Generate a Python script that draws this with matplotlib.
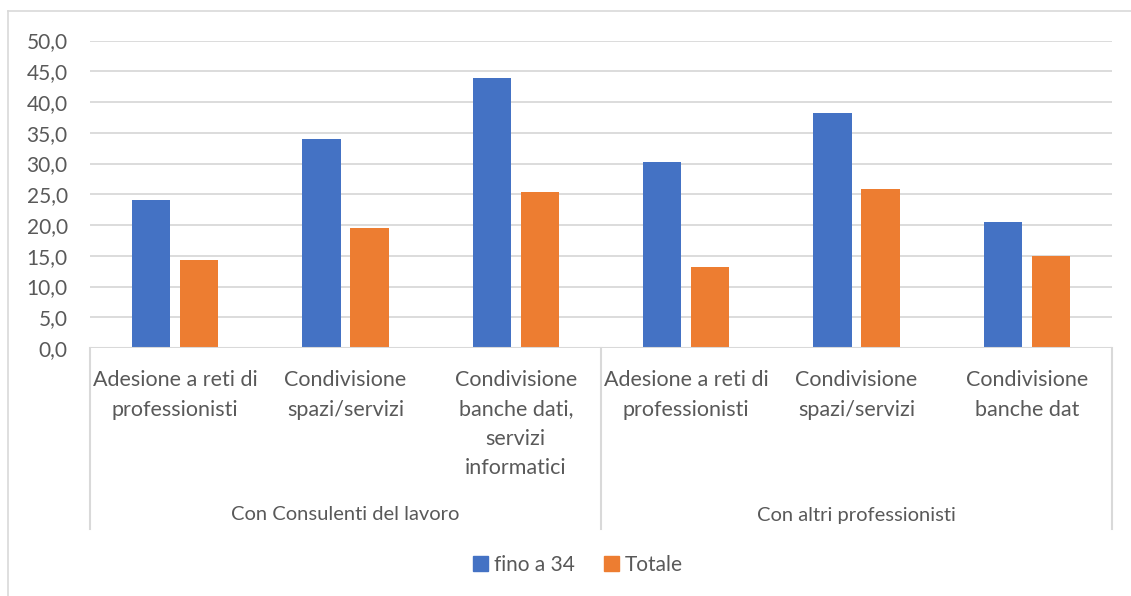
import matplotlib
matplotlib.use("Agg")
import matplotlib.pyplot as plt
from matplotlib.lines import Line2D
from matplotlib.patches import Patch
import numpy as np

plt.rcParams['font.family'] = ['Lato', 'DejaVu Sans']

categories = [
    "Adesione a reti di\nprofessionisti",
    "Condivisione\nspazi/servizi",
    "Condivisione\nbanche dati,\nservizi\ninformatici",
    "Adesione a reti di\nprofessionisti",
    "Condivisione\nspazi/servizi",
    "Condivisione\nbanche dat",
]
groups = ["Con Consulenti del lavoro", "Con altri professionisti"]
group_sizes = [3, 3]
series_names = ["fino a 34", "Totale"]
fino_a_34 = [24.1, 34.0, 43.9, 30.3, 38.2, 20.5]
totale = [14.3, 19.5, 25.4, 13.2, 25.8, 14.9]
yticks = [0, 5, 10, 15, 20, 25, 30, 35, 40, 45, 50]

BLUE = "#4472C4"
ORANGE = "#ED7D31"
GRID = "#D9D9D9"
TXT = "#595959"
FS = 14.5

W, H = 1131, 596
fig = plt.figure(figsize=(W / 100, H / 100), dpi=100)

def fx(px):
    return px / W

def fy(py):
    return 1 - py / H

ax_l, ax_r, ax_t, ax_b = 90, 1112, 40.5, 348
ax = fig.add_axes([fx(ax_l), fy(ax_b), fx(ax_r) - fx(ax_l), fy(ax_t) - fy(ax_b)])

n = len(categories)
x = np.arange(n)
bw = 0.225
off = 0.14
ax.bar(x - off, fino_a_34, bw, color=BLUE, zorder=3, label=series_names[0])
ax.bar(x + off, totale, bw, color=ORANGE, zorder=3, label=series_names[1])

ax.set_xlim(-0.5, n - 0.5)
ax.set_ylim(0, 50)
ax.set_yticks(yticks)
ax.set_yticklabels([f"{v:.1f}".replace(".", ",") for v in yticks], color=TXT, fontsize=15)
ax.tick_params(axis='y', length=0, pad=16)
ax.set_xticks([])
for s in ax.spines.values():
    s.set_visible(False)
ax.yaxis.grid(True, color=GRID, linewidth=1.3, zorder=0)
ax.axhline(0, color=GRID, linewidth=1.5, zorder=4)

# category labels
for i, lab in enumerate(categories):
    ax.annotate(lab, xy=(i, 0), xycoords=('data', 'axes fraction'),
                xytext=(0, -16), textcoords='offset points',
                ha='center', va='top', fontsize=15.5, color=TXT, linespacing=1.58)

# group separators and labels
trans = ax.get_xaxis_transform()
bottom_frac = (fy(529) - fy(ax_b)) / (fy(ax_t) - fy(ax_b))
start = 0
bounds = [-0.5]
for g in group_sizes:
    start += g
    bounds.append(start - 0.5)
for b in bounds:
    ax.add_line(Line2D([b, b], [0, bottom_frac], transform=trans, color=GRID,
                       linewidth=1.5, clip_on=False))
start = 0
group_frac = (fy(515) - fy(ax_b)) / (fy(ax_t) - fy(ax_b))
for g, gs in zip(groups, group_sizes):
    c = start + (gs - 1) / 2
    ax.text(c, group_frac, g, transform=trans, ha='center', va='center',
            fontsize=FS, color=TXT)
    start += gs

# outer chart border (left and top)
fig.add_artist(Line2D([fx(8), fx(8)], [fy(11), 0], color=GRID, linewidth=1.2))
fig.add_artist(Line2D([fx(8), 1], [fy(11), fy(11)], color=GRID, linewidth=1.2))

# legend
handles = [Patch(color=BLUE), Patch(color=ORANGE)]
fig.legend(handles, series_names, loc='center', bbox_to_anchor=(fx(578), fy(565)),
           ncol=2, frameon=False, fontsize=15, labelcolor=TXT,
           handlelength=0.7, handleheight=0.7, handletextpad=0.3, columnspacing=1.4)

fig.savefig("out.png", dpi=100, facecolor='white')
